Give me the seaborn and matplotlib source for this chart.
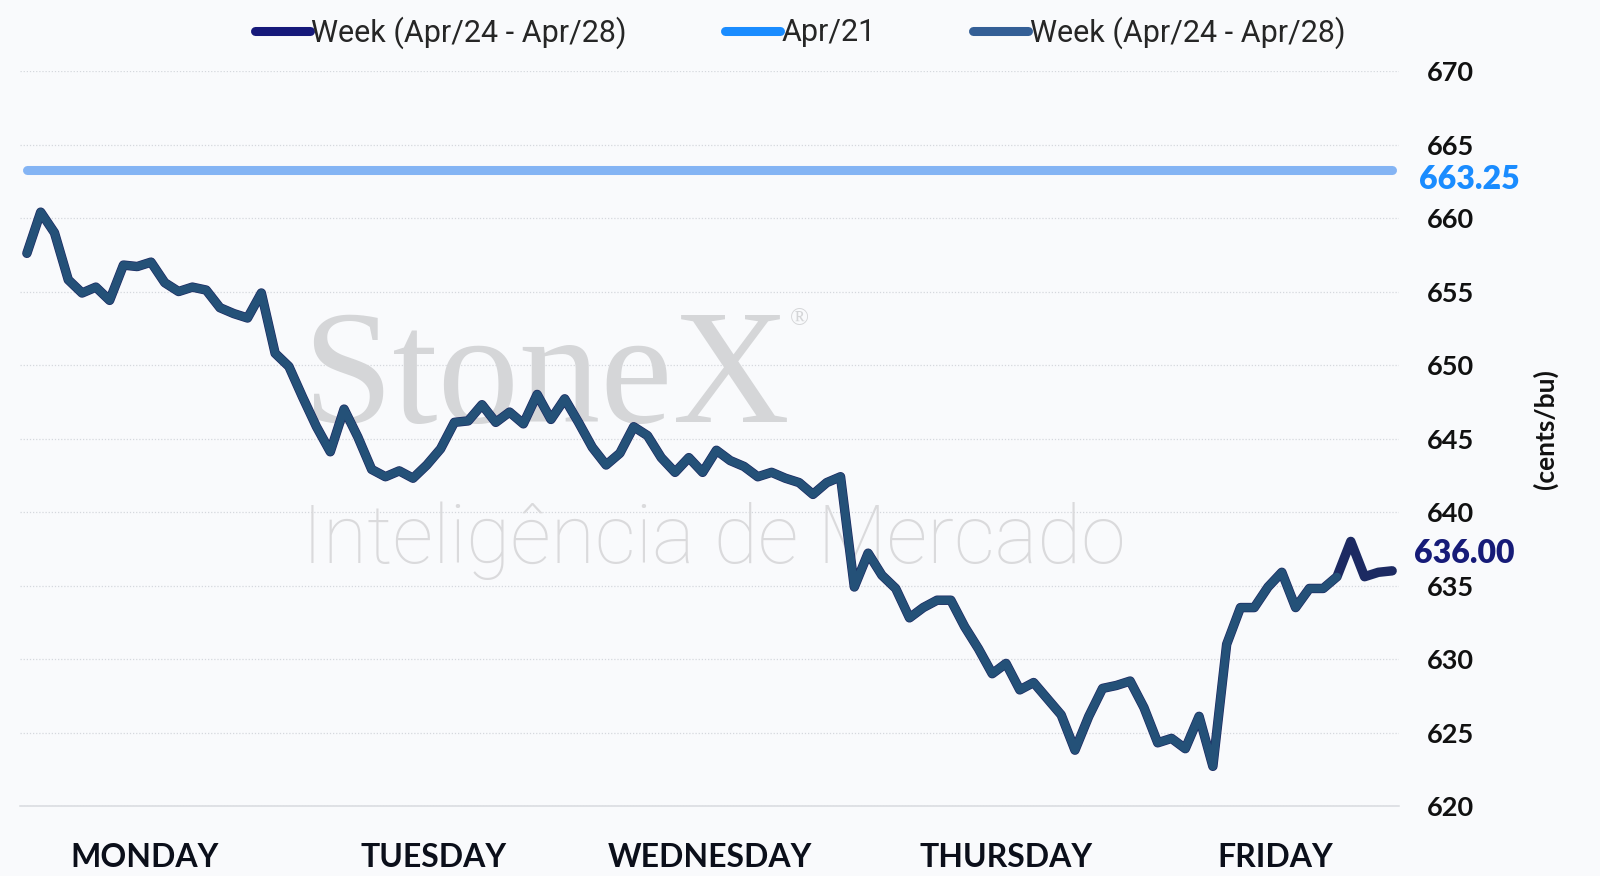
import pandas as pd
import matplotlib
matplotlib.use('Agg')
import matplotlib.pyplot as plt
from matplotlib import font_manager
from matplotlib.lines import Line2D
import seaborn as sns

# precos intradiarios (cents/bu), 20 leituras por dia
week = [657.6, 660.4, 659.0, 655.8, 654.9, 655.3, 654.4, 656.8, 656.7, 657.0,
        655.6, 655.0, 655.3, 655.1, 653.9, 653.5, 653.2, 654.9, 650.8, 649.9,
        647.8, 645.8, 644.1, 647.0, 645.1, 642.9, 642.4, 642.8, 642.3, 643.2,
        644.3, 646.1, 646.2, 647.3, 646.1, 646.8, 646.0, 648.0, 646.3, 647.7,
        646.1, 644.4, 643.2, 644.0, 645.8, 645.2, 643.7, 642.7, 643.7, 642.7,
        644.2, 643.5, 643.1, 642.4, 642.7, 642.3, 642.0, 641.2, 642.0, 642.4,
        634.9, 637.2, 635.7, 634.8, 632.8, 633.5, 634.0, 634.0, 632.2, 630.7,
        629.0, 629.7, 627.9, 628.4, 627.3, 626.2, 623.8, 626.1, 628.0, 628.2,
        628.5, 626.7, 624.3, 624.6, 623.9, 626.1, 622.7, 631.0, 633.5, 633.5,
        634.9, 635.9, 633.5, 634.8, 634.8, 635.6, 638.0, 635.6, 635.9, 636.0]
week_cut = 96          # a segunda serie termina antes
apr21 = 663.25
days = ['MONDAY', 'TUESDAY', 'WEDNESDAY', 'THURSDAY', 'FRIDAY']
day_pos = [8.5, 29.5, 49.5, 71.0, 90.5]
yticks = list(range(620, 671, 5))
labels = ['Week (Apr/24 - Apr/28)', 'Apr/21', 'Week (Apr/24 - Apr/28)']

df = pd.DataFrame({'t': range(len(week)), 'price': week})
df['apr21'] = apr21
df2 = df.iloc[:week_cut]

names = {f.name for f in font_manager.fontManager.ttflist}
narrow = 'Liberation Sans Narrow' if 'Liberation Sans Narrow' in names else 'Roboto'
main_font = 'Lato' if 'Lato' in names else 'DejaVu Sans'

sns.set_style('white')
plt.rcParams['font.family'] = [main_font, 'DejaVu Sans']

bg = '#f9fafc'
fig = plt.figure(figsize=(16, 8.76), dpi=100, facecolor=bg)
ax = fig.add_axes([0.0125, 0.0799, 0.8619, 0.839], facecolor=bg)

navy = '#1c2a62'
steel = '#245178'
sns.lineplot(data=df, x='t', y='apr21', ax=ax, color='#84b4f4', lw=6.5,
             solid_capstyle='round', zorder=3)
sns.lineplot(data=df, x='t', y='price', ax=ax, color=navy, lw=6.8,
             solid_capstyle='round', solid_joinstyle='round', zorder=4)
sns.lineplot(data=df2, x='t', y='price', ax=ax, color=steel, lw=5.8,
             solid_capstyle='round', solid_joinstyle='round', zorder=5)

# marca d'agua
wm = '#d5d6d8'
ax.text(0.2045, 0.522, 'StoneX', transform=ax.transAxes, fontsize=117,
        family=['Liberation Serif', 'DejaVu Serif'], color=wm, va='baseline',
        ha='left', zorder=1)
ax.text(0.5585, 0.662, '®', transform=ax.transAxes, fontsize=18,
        family=['Liberation Serif', 'DejaVu Serif'], color=wm, va='center',
        ha='left', zorder=1)
ax.text(0.2045, 0.3306, 'Inteligência de Mercado', transform=ax.transAxes,
        fontsize=58, family=[narrow, 'DejaVu Sans'], fontweight='light',
        color='#dadadc', va='baseline', ha='left', zorder=1)

ax.set_xlim(-0.5, 99.5)
ax.set_ylim(620, 670)
ax.set_xticks([-0.5 + 20 * i for i in range(6)])
ax.set_xticklabels([])
ax.tick_params(axis='x', direction='inout', length=14, width=1.1,
               color='#d8dadf')
for d, p in zip(days, day_pos):
    ax.text(p, -0.083, d, transform=ax.get_xaxis_transform(), ha='center',
            va='baseline', fontsize=23, fontweight='bold', color='#0b0f1a')

ax.yaxis.tick_right()
ax.set_yticks(yticks)
ax.tick_params(axis='y', length=0, pad=20, labelsize=19.5, labelcolor='#111111')
for lab in ax.get_yticklabels():
    lab.set_fontweight('bold')
ax.grid(axis='y', linestyle=(0, (1, 1.5)), lw=0.9, color='#d5d8dd')
ax.set_xlabel('')
ax.set_ylabel('')
for s in ['top', 'left', 'right']:
    ax.spines[s].set_visible(False)
ax.spines['bottom'].set_color('#d8dadf')
ax.spines['bottom'].set_linewidth(1.1)

ax.text(1.0145, 662.6, f'{apr21:.2f}', transform=ax.get_yaxis_transform(),
        fontsize=23, fontweight='heavy', color='#1a8cff', va='center', ha='left')
ax.text(1.0105, 637.2, f'{week[-1]:.2f}', transform=ax.get_yaxis_transform(),
        fontsize=23, fontweight='heavy', color='#161b78', va='center', ha='left')
ax.text(1.106, 0.513, '(cents/bu)', transform=ax.transAxes, rotation=90,
        fontsize=19, fontweight='bold', color='#111111', va='center', ha='center')

handles = [Line2D([], [], color=c, lw=6.5, solid_capstyle='round')
           for c in ['#16197a', '#1a8cff', '#345f96']]
fig.legend(handles, labels, loc='center', bbox_to_anchor=(0.5, 0.963), ncol=3,
           frameon=False, handlelength=1.8, handletextpad=0.05,
           columnspacing=3.2, prop={'family': [narrow, 'DejaVu Sans'], 'size': 22})

plt.savefig('out.png', dpi=100, facecolor=bg)
